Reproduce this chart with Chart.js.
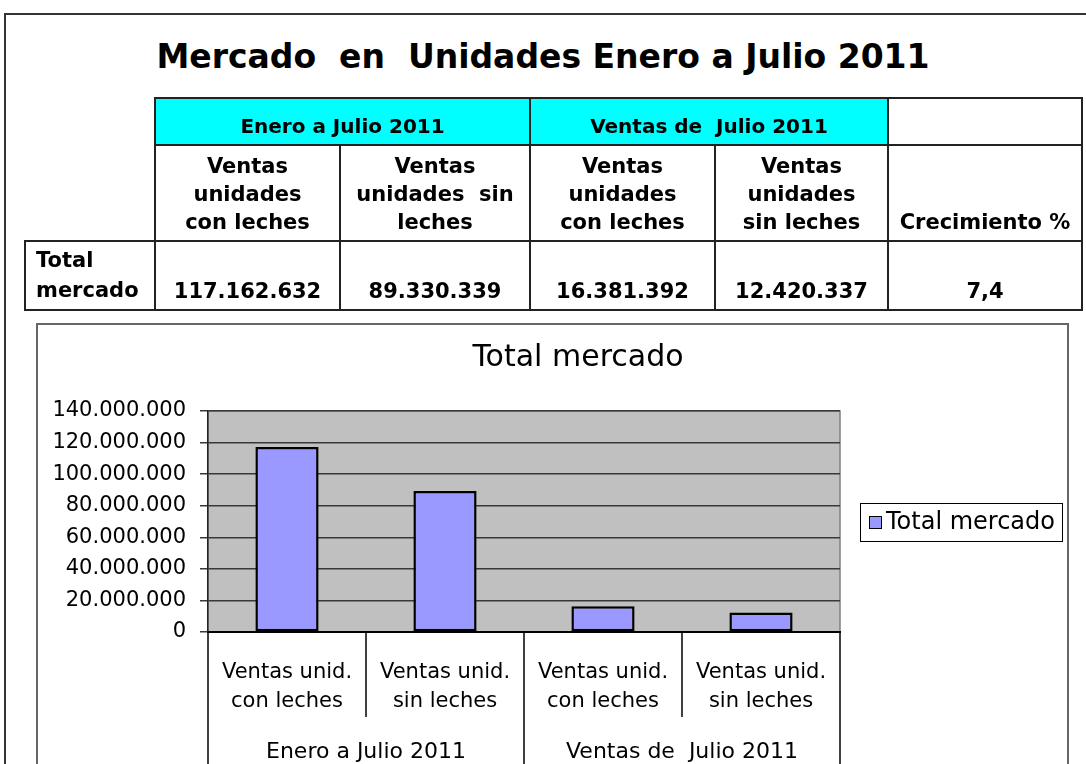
<!DOCTYPE html>
<html lang="es">
<head>
    <meta charset="UTF-8">
    <title>Mercado en Unidades Enero a Julio 2011</title>
    <style>
        body {
            margin: 0;
            width: 1086px;
            height: 764px;
            overflow: hidden;
            background: #fff;
            font-family: "DejaVu Sans", sans-serif;
            position: relative;
        }
        .frame {
            position: absolute;
            left: 4px;
            top: 13px;
            width: 1100px;
            height: 800px;
            border-top: 2px solid #333;
            border-left: 2px solid #333;
        }
        h1 {
            position: absolute;
            left: 0;
            top: 37px;
            width: 1086px;
            margin: 0;
            text-align: center;
            font-size: 33px;
            white-space: pre;
        }
        table {
            position: absolute;
            left: 24px;
            top: 97px;
            border-collapse: collapse;
            table-layout: fixed;
            font-weight: bold;
            font-size: 21px;
            line-height: 28px;
        }
        td {
            border: 2px solid #222;
            text-align: center;
            vertical-align: bottom;
            padding: 0 0 4px 0;
            white-space: pre;
        }
        td.blank { border: none; }
        td.cyan { background: #00ffff; font-size: 20px; }
        td.lbl { text-align: left; padding-left: 10px; line-height: 30px; }
        .chartbox {
            position: absolute;
            left: 36px;
            top: 323px;
            width: 1029px;
            height: 500px;
            border: 2px solid #666;
        }
        canvas { position: absolute; left: 0; top: 0; }
    </style>
</head>
<body>
    <div class="frame"></div>
    <h1>Mercado  en  Unidades Enero a Julio 2011</h1>
    <div class="chartbox"></div>
    <canvas id="chart" width="1086" height="764"></canvas>

    <table>
        <colgroup>
            <col style="width:130px"><col style="width:185px"><col style="width:190px">
            <col style="width:185px"><col style="width:173px"><col style="width:194px">
        </colgroup>
        <tr style="height:47px">
            <td class="blank"></td>
            <td class="cyan" colspan="2">Enero a Julio 2011</td>
            <td class="cyan" colspan="2">Ventas de  Julio 2011</td>
            <td></td>
        </tr>
        <tr style="height:96px">
            <td class="blank"></td>
            <td>Ventas<br>unidades<br>con leches</td>
            <td>Ventas<br>unidades  sin<br>leches</td>
            <td>Ventas<br>unidades<br>con leches</td>
            <td>Ventas<br>unidades<br>sin leches</td>
            <td>Crecimiento %</td>
        </tr>
        <tr style="height:69px" id="totalRow">
            <td class="lbl">Total<br>mercado</td>
        </tr>
    </table>

    <script src="https://cdn.jsdelivr.net/npm/chart.js"></script>
    <script>
        // data
        const categories = [
            ['Ventas unid.', 'con leches'],
            ['Ventas unid.', 'sin leches'],
            ['Ventas unid.', 'con leches'],
            ['Ventas unid.', 'sin leches']
        ];
        const groups = ['Enero a Julio 2011', 'Ventas de  Julio 2011'];
        const values = [117162632, 89330339, 16381392, 12420337];
        const crecimiento = '7,4';
        const seriesName = 'Total mercado';

        const fmt = v => String(v).replace(/\B(?=(\d{3})+(?!\d))/g, '.');

        // last row of the table
        const totalRow = document.getElementById('totalRow');
        values.concat([crecimiento]).forEach(v => {
            const td = document.createElement('td');
            td.textContent = typeof v === 'number' ? fmt(v) : v;
            totalRow.appendChild(td);
        });

        const plotBg = {
            id: 'plotBg',
            beforeDraw(chart) {
                const { ctx, chartArea: a } = chart;
                ctx.save();
                ctx.fillStyle = '#c0c0c0';
                ctx.fillRect(a.left, a.top, a.right - a.left, a.bottom - a.top);
                ctx.strokeStyle = '#808080';
                ctx.lineWidth = 1.5;
                ctx.strokeRect(a.left, a.top, a.right - a.left, a.bottom - a.top);
                ctx.restore();
            }
        };

        const chartTitle = {
            id: 'chartTitle',
            afterDraw(chart) {
                const ctx = chart.ctx;
                ctx.save();
                ctx.font = '30px "DejaVu Sans"';
                ctx.fillStyle = '#000';
                ctx.textAlign = 'center';
                ctx.textBaseline = 'middle';
                ctx.fillText(seriesName, 578, 358);
                ctx.restore();
            }
        };

        // dividers and group labels under the category axis
        const groupAxis = {
            id: 'groupAxis',
            afterDraw(chart) {
                const { ctx, chartArea: a, scales: { x } } = chart;
                const n = categories.length;
                const edge = i => i === 0 ? a.left : i === n ? a.right
                    : (x.getPixelForValue(i - 1) + x.getPixelForValue(i)) / 2;
                ctx.save();
                ctx.strokeStyle = '#000';
                ctx.lineWidth = 1.5;
                for (let i = 0; i <= n; i++) {
                    const px = Math.round(edge(i));
                    ctx.beginPath();
                    ctx.moveTo(px, a.bottom);
                    ctx.lineTo(px, i % 2 === 0 ? chart.height : a.bottom + 85);
                    ctx.stroke();
                }
                ctx.font = '22px "DejaVu Sans"';
                ctx.fillStyle = '#000';
                ctx.textAlign = 'center';
                ctx.textBaseline = 'middle';
                groups.forEach((g, j) => {
                    ctx.fillText(g, (edge(j * 2) + edge(j * 2 + 2)) / 2, a.bottom + 120);
                });
                ctx.restore();
            }
        };

        const boxLegend = {
            id: 'boxLegend',
            afterDraw(chart) {
                const { ctx, chartArea: a } = chart;
                const ds = chart.data.datasets[0];
                const x0 = a.right + 20, y0 = Math.round((a.top + a.bottom) / 2) - 19;
                ctx.save();
                ctx.strokeStyle = '#000';
                ctx.lineWidth = 1;
                ctx.strokeRect(x0 + 0.5, y0 + 0.5, 202, 38);
                ctx.fillStyle = ds.backgroundColor;
                ctx.fillRect(x0 + 9, y0 + 13, 13, 13);
                ctx.strokeRect(x0 + 9.5, y0 + 13.5, 12, 12);
                ctx.fillStyle = '#000';
                ctx.font = '24px "DejaVu Sans"';
                ctx.textBaseline = 'middle';
                ctx.fillText(ds.label, x0 + 26, y0 + 20);
                ctx.restore();
            }
        };

        new Chart(document.getElementById('chart'), {
            type: 'bar',
            data: {
                labels: categories,
                datasets: [{
                    label: seriesName,
                    data: values,
                    backgroundColor: '#9999ff',
                    borderColor: '#000',
                    borderWidth: 2.5,
                    borderSkipped: false,
                    barPercentage: 0.4,
                    categoryPercentage: 1.0
                }]
            },
            options: {
                responsive: false,
                devicePixelRatio: 1,
                animation: false,
                layout: { padding: { left: 0, top: 411, right: 246, bottom: 0 } },
                plugins: {
                    legend: { display: false },
                    tooltip: { enabled: false }
                },
                scales: {
                    x: {
                        grid: { display: false, drawTicks: false },
                        border: { display: true, color: '#000', width: 2 },
                        ticks: {
                            color: '#000',
                            font: { family: '"DejaVu Sans"', size: 21, lineHeight: 1.38 },
                            padding: 26,
                            autoSkip: false,
                            maxRotation: 0
                        },
                        afterFit(s) { s.height = 132; }
                    },
                    y: {
                        min: 0,
                        max: 140000000,
                        grid: { color: '#383838', lineWidth: 1.5, tickLength: 8 },
                        border: { display: true, color: '#222', width: 1.5 },
                        ticks: {
                            stepSize: 20000000,
                            color: '#000',
                            padding: 14,
                            font: { family: '"DejaVu Sans"', size: 21 },
                            callback: v => fmt(v)
                        },
                        afterFit(s) { s.width = 208; }
                    }
                }
            },
            plugins: [plotBg, chartTitle, groupAxis, boxLegend]
        });
    </script>
</body>
</html>
